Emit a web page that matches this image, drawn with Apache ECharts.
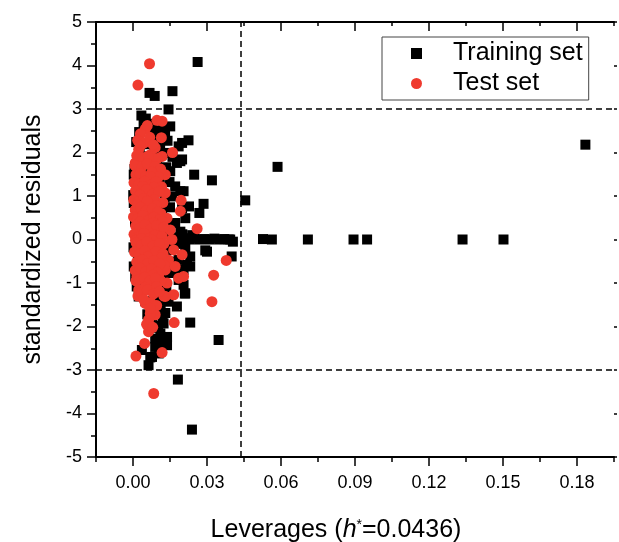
<!DOCTYPE html>
<html>
<head>
	<meta charset="UTF-8">
	<title></title>
	<script src="https://cdn.jsdelivr.net/npm/echarts@6/dist/echarts.min.js"></script>
	<style>
		html, body { margin: 0; padding: 0; background: #fff; }
	</style>
</head>
<body>
	<div id="main" style="width: 619px;height:542px;"></div>
	<script type="text/javascript">
		// leverage h, standardized residual
		var trainingSet = [
			// isolated points
			[0.0262, 4.08], [0.0067, 3.37], [0.0088, 3.30], [0.0160, 3.41], [0.0144, 2.99], [0.0034, 2.85],
			[0.0151, 2.60], [0.0225, 2.28], [0.0199, 2.22], [0.0199, 1.84], [0.0248, 1.49], [0.0320, 1.36],
			[0.0205, 1.11], [0.0286, 0.82], [0.0269, 0.61], [0.0227, 0.76], [0.0293, -0.25], [0.0400, -0.39],
			[0.0219, -0.58], [0.0232, -1.91], [0.0347, -2.31], [0.0063, -2.89], [0.0182, -3.22], [0.0239, -4.37],
			[0.0586, 1.67], [0.0455, 0.90], [0.0527, 0.01], [0.0563, 0.00], [0.0709, 0.00], [0.0894, 0.00],
			[0.0949, 0.00], [0.1336, 0.00], [0.1502, 0.00], [0.1834, 2.18],
			// band near zero
			[0.0170, 0.02], [0.0190, 0.00], [0.0210, 0.03], [0.0230, 0.00], [0.0250, 0.02], [0.0270, 0.00],
			[0.0290, 0.01], [0.0310, 0.00], [0.0330, 0.02], [0.0350, 0.00], [0.0370, 0.01], [0.0394, 0.00],
			[0.0405, -0.05], [0.0200, 0.12], [0.0240, 0.10], [0.0180, -0.10], [0.0300, -0.28], [0.0388, 0.00],
			// right edge of the cluster
			[0.0185, 2.14], [0.0077, 2.45], [0.0124, 2.57], [0.0090, 2.30], [0.0063, 1.91], [0.0043, 2.64],
			[0.0131, 1.99], [0.0178, 1.76], [0.0192, 1.80], [0.0097, 1.68], [0.0151, 1.57], [0.0171, 1.22],
			[0.0003, 1.49], [0.0003, 0.84], [0.0158, 0.99], [0.0199, 0.72], [0.0212, 0.49], [0.0171, 0.38],
			[0.0192, 0.18], [0.0212, -0.18], [0.0232, -0.39], [0.0185, -0.47], [0.0232, -0.62], [0.0165, -0.77],
			[0.0199, -0.81], [0.0003, -0.62], [0.0205, -1.04], [0.0212, -1.24], [0.0178, -1.54], [0.0144, -1.43],
			[0.0131, -1.69], [0.0124, -1.93], [0.0111, -2.16], [0.0138, -2.24], [0.0138, -2.43], [0.0090, -2.47],
			[0.0070, -2.71], [0.0104, -2.62], [0.0036, -2.54], [0.0023, -1.31], [0.0030, -1.00], [0.0009, -0.85],
			[0.0077, -1.77], [0.0118, -1.20], [0.0104, -0.93], [0.0111, -2.43], [0.0077, -2.70], [0.0185, -0.93],
			[0.0205, -0.70], [0.0210, -1.24], [0.0192, 1.11],
			// body of the cluster
			[0.0052, 2.78], [0.0076, 2.66], [0.0101, 2.51], [0.0025, 2.47], [0.0130, 2.41],
			[0.0013, 2.24], [0.0060, 2.19], [0.0110, 2.15], [0.0140, 2.27],
			[0.0027, 1.98], [0.0087, 2.03], [0.0115, 1.94], [0.0160, 1.90],
			[0.0006, 1.62], [0.0045, 1.58], [0.0098, 1.61], [0.0135, 1.66],
			[0.0017, 1.37], [0.0062, 1.29], [0.0108, 1.38], [0.0148, 1.32],
			[0.0001, 1.02], [0.0038, 0.97], [0.0085, 1.05], [0.0128, 0.96],
			[0.0022, 0.72], [0.0070, 0.77], [0.0118, 0.69], [0.0150, 0.74],
			[0.0008, 0.41], [0.0054, 0.36], [0.0099, 0.43], [0.0140, 0.33],
			[0.0030, 0.16], [0.0077, 0.08], [0.0130, 0.13], [0.0160, 0.05],
			[0.0002, -0.18], [0.0047, -0.22], [0.0093, -0.16], [0.0138, -0.24], [0.0155, -0.12],
			[0.0020, -0.47], [0.0066, -0.53], [0.0115, -0.44], [0.0150, -0.51],
			[0.0040, -0.82], [0.0088, -0.77], [0.0126, -0.85], [0.0152, -0.74],
			[0.0015, -1.08], [0.0063, -1.13], [0.0100, -1.05], [0.0135, -1.10],
			[0.0050, -1.42], [0.0085, -1.36], [0.0112, -1.47],
			[0.0058, -1.72], [0.0095, -1.66], [0.0120, -1.79],
			[0.0075, -2.03], [0.0102, -1.98], [0.0090, -2.28], [0.0120, -2.33]
		];

		var testSet = [
			// isolated points
			[0.0067, 4.04], [0.0020, 3.55], [0.0097, 2.74], [0.0118, 2.72], [0.0050, 2.54], [0.0030, 2.43],
			[0.0115, 2.34], [0.0160, 2.00], [0.0195, 0.90], [0.0192, 0.65], [0.0260, 0.25], [0.0378, -0.48],
			[0.0327, -0.82], [0.0320, -1.43], [0.0167, -1.91], [0.0063, -2.12], [0.0047, -2.39], [0.0118, -2.60],
			[0.0012, -2.68], [0.0084, -3.54],
			// edge of the cluster
			[0.0023, 2.07], [0.0090, 2.11], [0.0050, 1.84], [0.0118, 1.91], [0.0009, 1.76], [0.0077, 1.72],
			[0.0131, 1.49], [0.0131, 1.07], [0.0158, 0.00], [0.0165, -0.24], [0.0199, -0.35], [0.0138, 0.49],
			[0.0151, 0.22], [0.0144, -0.47], [0.0171, -0.62], [0.0131, -0.70], [0.0185, -0.89], [0.0205, -0.85],
			[0.0165, -1.27], [0.0077, -1.62], [0.0090, -1.73], [0.0063, -1.85], [0.0050, -1.47], [0.0131, -1.31],
			[0.0023, -1.16], [0.0063, -1.08], [0.0016, -0.85], [0.0104, -0.81], [0.0138, -1.00], [0.0070, -1.70],
			// body of the cluster
			[0.0019, 2.28], [0.0045, 2.22], [0.0068, 2.35], [0.0082, 2.18], [0.0058, 2.62], [0.0030, 2.15],
			[0.0015, 1.93], [0.0042, 1.88], [0.0071, 1.95], [0.0098, 1.86], [0.0062, 1.92], [0.0020, 1.60],
			[0.0008, 1.70], [0.0035, 1.66], [0.0058, 1.74], [0.0089, 1.68], [0.0112, 1.62],
			[0.0012, 1.49], [0.0029, 1.52], [0.0051, 1.45], [0.0076, 1.55], [0.0103, 1.44], [0.0070, 1.45],
			[0.0004, 1.31], [0.0024, 1.27], [0.0047, 1.34], [0.0069, 1.25], [0.0093, 1.33], [0.0116, 1.21],
			[0.0040, 1.22], [0.0085, 1.20],
			[0.0010, 1.12], [0.0033, 1.06], [0.0056, 1.15], [0.0080, 1.04], [0.0105, 1.10], [0.0028, 1.02],
			[0.0003, 0.91], [0.0021, 0.86], [0.0044, 0.94], [0.0066, 0.83], [0.0087, 0.92], [0.0121, 0.85],
			[0.0018, 0.80], [0.0058, 0.88], [0.0095, 0.78], [0.0113, 0.60], [0.0035, 0.62], [0.0073, 0.57],
			[0.0009, 0.68], [0.0031, 0.74], [0.0053, 0.66], [0.0078, 0.71], [0.0100, 0.63],
			[0.0002, 0.52], [0.0018, 0.47], [0.0040, 0.55], [0.0062, 0.44], [0.0085, 0.51], [0.0110, 0.46],
			[0.0028, 0.40], [0.0052, 0.22], [0.0082, 0.38], [0.0105, 0.18], [0.0120, 0.40],
			[0.0011, 0.31], [0.0027, 0.26], [0.0049, 0.34], [0.0073, 0.24], [0.0096, 0.32], [0.0125, 0.28],
			[0.0004, 0.12], [0.0022, 0.06], [0.0045, 0.14], [0.0067, 0.03], [0.0090, 0.10], [0.0118, 0.07],
			[0.0010, -0.02], [0.0035, 0.02], [0.0078, -0.02], [0.0100, -0.20], [0.0125, -0.10], [0.0020, -0.20],
			[0.0013, -0.08], [0.0034, -0.13], [0.0057, -0.05], [0.0081, -0.15], [0.0107, -0.09],
			[0.0006, -0.29], [0.0026, -0.34], [0.0048, -0.26], [0.0071, -0.36], [0.0094, -0.28], [0.0122, -0.33],
			[0.0060, -0.40], [0.0115, -0.42], [0.0128, -0.60], [0.0045, -0.62], [0.0087, -0.62],
			[0.0015, -0.52], [0.0038, -0.47], [0.0060, -0.55], [0.0084, -0.49], [0.0109, -0.56],
			[0.0009, -0.71], [0.0030, -0.66], [0.0052, -0.74], [0.0075, -0.68], [0.0099, -0.75],
			[0.0012, -0.95], [0.0058, -1.02], [0.0080, -0.82], [0.0113, -0.95],
			[0.0024, -0.92], [0.0046, -0.87], [0.0069, -0.95], [0.0091, -0.89],
			[0.0020, -1.30], [0.0048, -1.10], [0.0095, -1.08], [0.0125, -1.30],
			[0.0036, -1.22], [0.0058, -1.16], [0.0083, -1.25], [0.0107, -1.19],
			[0.0044, -1.38], [0.0072, -1.45], [0.0096, -1.52], [0.0055, -1.95], [0.0080, -2.02], [0.0069, -1.58]
		];

		var hStar = 0.0436;
		var residualLimits = [3, -3];
		var xMajorTicks = [0, 0.03, 0.06, 0.09, 0.12, 0.15, 0.18];

		var FONT = 'Liberation Sans';
		var red = '#ef3a2e';

		var guides = [{ xAxis: hStar }].concat(residualLimits.map(function(v) {
			return { yAxis: v };
		}));

		var myChart = echarts.init(document.getElementById('main'));

		var xBase = {
			min: -0.015,
			max: 0.195,
			splitLine: { show: false }
		};

		myChart.setOption({
			animation: false,
			backgroundColor: '#fff',
			textStyle: { fontFamily: FONT },
			grid: { left: 96, right: 5, top: 22, bottom: 85, outerBoundsMode: 'none', containLabel: false },
			legend: {
				left: 382,
				top: 37,
				orient: 'vertical',
				padding: [4, 6, 4, 29],
				itemGap: 5,
				itemWidth: 11,
				itemHeight: 11,
				borderColor: '#444',
				borderWidth: 1,
				borderRadius: 0,
				textStyle: { fontFamily: FONT, fontSize: 25, color: '#000', padding: [0, 0, 0, 26] },
				data: [
					{ name: 'Training set', icon: 'rect' },
					{ name: 'Test set', icon: 'circle' }
				]
			},
			xAxis: [
				Object.assign({
					type: 'value',
					position: 'bottom',
					interval: 0.015,
					name: '{a|Leverages (}{i|h}{s|*}{a|=0.0436)}',
					nameLocation: 'middle',
					nameGap: 61,
					nameTextStyle: {
						padding: [0, 38, 0, 0],
						rich: {
							a: { fontFamily: FONT, fontSize: 25, color: '#000' },
							i: { fontFamily: FONT, fontSize: 25, fontStyle: 'italic', color: '#000' },
							s: { fontFamily: FONT, fontSize: 14, color: '#000', verticalAlign: 'top' }
						}
					},
					axisLine: { onZero: false, lineStyle: { color: '#000', width: 2 } },
					axisTick: { inside: false, length: 5, lineStyle: { color: '#000', width: 1.5 } },
					axisLabel: {
						margin: 17,
						fontFamily: FONT,
						fontSize: 18,
						color: '#000',
						formatter: function(v) {
							var k = Math.round(v / 0.015);
							return k % 2 === 0 ? (k * 0.015).toFixed(2) : '';
						}
					}
				}, xBase),
				Object.assign({
					type: 'value',
					position: 'bottom',
					axisLine: { show: false, onZero: false },
					axisTick: { inside: false, length: 9, customValues: xMajorTicks, lineStyle: { color: '#000', width: 1.5 } },
					axisLabel: { show: false }
				}, xBase),
				Object.assign({
					type: 'value',
					position: 'top',
					interval: 0.015,
					axisLine: { onZero: false, lineStyle: { color: '#000', width: 2 } },
					axisTick: { inside: true, length: 4, lineStyle: { color: '#000', width: 1.5 } },
					axisLabel: { show: false }
				}, xBase),
				Object.assign({
					type: 'value',
					position: 'top',
					axisLine: { show: false, onZero: false },
					axisTick: { inside: true, length: 9, customValues: xMajorTicks, lineStyle: { color: '#000', width: 1.5 } },
					axisLabel: { show: false }
				}, xBase)
			],
			yAxis: [{
				type: 'value',
				position: 'left',
				min: -5,
				max: 5,
				interval: 1,
				name: 'standardized residuals',
				nameLocation: 'middle',
				nameGap: 50,
				nameTextStyle: { fontFamily: FONT, fontSize: 25, color: '#000' },
				splitLine: { show: false },
				axisLine: { onZero: false, lineStyle: { color: '#000', width: 2 } },
				axisTick: { inside: false, length: 9, lineStyle: { color: '#000', width: 1.5 } },
				minorTick: { show: true, splitNumber: 2, length: 5, lineStyle: { color: '#000', width: 1.5 } },
				axisLabel: { margin: 14, fontFamily: FONT, fontSize: 18, color: '#000' }
			}, {
				type: 'value',
				position: 'right',
				min: -5,
				max: 5,
				interval: 1,
				splitLine: { show: false },
				axisLine: { show: false, onZero: false },
				axisTick: { inside: false, length: 3, lineStyle: { color: '#000', width: 1.5 } },
				axisLabel: { show: false }
			}],
			series: [{
				name: 'Training set',
				type: 'scatter',
				symbol: 'rect',
				symbolSize: 10,
				itemStyle: { color: '#000', opacity: 1 },
				data: trainingSet
			}, {
				name: 'Test set',
				type: 'scatter',
				symbol: 'circle',
				symbolSize: 11,
				itemStyle: { color: red, opacity: 1 },
				data: testSet,
				markLine: {
					silent: true,
					symbol: 'none',
					precision: 4,
					label: { show: false },
					lineStyle: { color: '#000', type: [6, 4], width: 1.5 },
					data: guides
				}
			}]
		});
	</script>
</body>
</html>
